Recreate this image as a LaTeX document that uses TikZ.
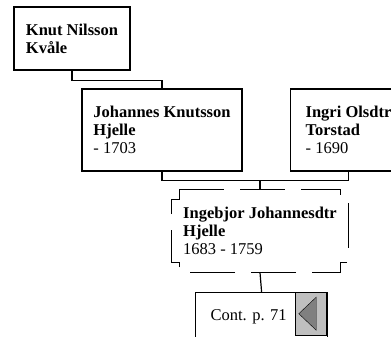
\documentclass[tikz,border=0pt]{standalone}
\usepackage{fontspec}
\setmainfont{Liberation Serif}
\frenchspacing
\tikzset{
  person/.style={draw, line width=1.2pt, align=left, inner xsep=0pt,
    font=\fontsize{16.5}{18}\selectfont, minimum height=82pt},
  link/.style={line width=1.2pt},
  dashbox/.style={line width=1.1pt, dash pattern=on 45pt off 16pt},
}
\begin{document}
\begin{tikzpicture}[x=1pt,y=-1pt]
\useasboundingbox (0,0) rectangle (391,337);
\clip (0,0) rectangle (391,337);
\node (knut) [person, minimum width=116pt, minimum height=63pt] at (72,38.5) {\textbf{Knut Nilsson}\\\textbf{Kvåle}};
\node (joh) [person, minimum width=160pt] at (162,130) {\textbf{Johannes Knutsson}\\\textbf{Hjelle}\\- 1703};
\node (ingri) [person, inner xsep=15pt] at (348.5,130) {\textbf{Ingri Olsdtr}\\\textbf{Torstad}\\- 1690};
\node (ing) [person, draw=none, minimum width=176pt] at (260,231) {\textbf{Ingebjor Johannesdtr}\\\textbf{Hjelle}\\1683 - 1759};
\draw [dashbox] ([shift={(8,0)}]ing.north west) -- ([shift={(-8,0)}]ing.north east) -- ++(0,10) -- ++(8,0)
  -- ([shift={(0,-10)}]ing.south east) -- ++(-8,0) -- ++(0,10) -- ([shift={(8,0)}]ing.south west)
  -- ++(0,-10) -- ++(-8,0) -- ([shift={(0,10)}]ing.north west) -- ++(8,0) -- cycle;
\node (cont) [person, anchor=north west, minimum height=48pt, text width=102pt, inner xsep=15pt] at (195,292) {Cont. p. 71};
\node (btn) [draw, fill=black!25, anchor=north east, minimum width=31pt, minimum height=43pt] at ([xshift=-2pt]cont.north east) {};
\draw [fill=black!50] ([xshift=4pt]btn.west) -- ([shift={(-10,-16.5)}]btn.east) -- ([shift={(-10,16.5)}]btn.east) -- cycle;
% connectors
\draw [link] (knut.south) -- ++(0,10) -| (joh.north);
\draw [link] (joh.south) -- ++(0,9) coordinate (bar) -| (ingri.south);
\draw [link] (ing.north) -- (ing.north |- bar);
\draw [link] (ing.south) -- (cont.north);
\end{tikzpicture}
\end{document}
